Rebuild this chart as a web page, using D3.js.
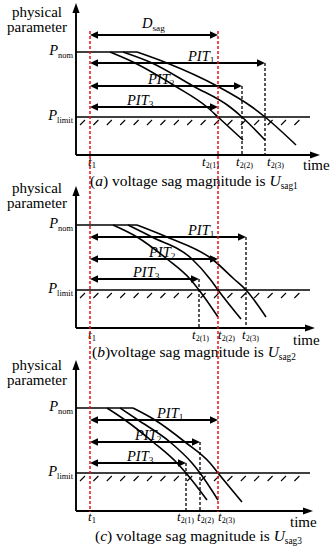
<!DOCTYPE html>
<html><head><meta charset="utf-8">
<script src="https://cdn.jsdelivr.net/npm/d3@7"></script>
<style>
html,body{margin:0;padding:0;background:#fff;}
svg{display:block;}
text{fill:#000;}
</style>
</head><body><svg id="chart" width="335" height="550" font-family="'Liberation Serif', 'Times New Roman', serif"></svg>
<script>
// ---------------- data ----------------
const panelLetters = ["a", "b", "c"];
const sagSubs = ["sag1", "sag2", "sag3"];
const pNom = 65, pLimit = 0, pMin = -38;          // physical parameter levels
const t1 = 14;                                      // sag start time
const t2Labels = ["2(1)", "2(2)", "2(3)"];
const t2A = [142, 166, 189];
const t2B = [123, 142, 170];
const t2C = [110, 124, 142];
const pitLevelsA = [54, 31, 10];                    // PIT1, PIT2, PIT3 arrow heights
const pitLevelsB = [53, 31, 11];
const pitLevelsC = [53, 31, 10];
const dsagLevel = 82;
const dsagEnd = 142;
const curvesA = [
  [[34,65],[57,55],[99,31],[131,10],[142,0],[167,-23]],
  [[47,65],[76,54],[117,31],[154,10],[166,0],[189,-23]],
  [[61,65],[91,54],[141,31],[176,10],[189,0],[220,-28]]
];
const curvesB = [
  [[37,65],[61,53],[91,31],[114,11],[123,0],[142,-27]],
  [[52,65],[76,53],[116,31],[134,11],[142,0],[165,-29]],
  [[61,65],[91,53],[136,31],[158,11],[170,0],[190,-27]]
];
const curvesC = [
  [[31,65],[49,53],[77,31],[101,10],[110,0],[131,-27]],
  [[44,65],[62,53],[94,31],[116,10],[124,0],[142,-27]],
  [[57,65],[79,53],[109,31],[134,10],[142,0],[166,-29]]
];

// ---------------- layout ----------------
const layout = [
  {plimitY:117, topP:114, axisEnd:244, limitEnd:234, physY:17, paramY:32, tickY:166, tickDx:[-16,-6,2],
   timeX:303, timeY:170, capX:90, capY:186, pitLabelT:[112,72,51], capSpace:true},
  {plimitY:290, topP:104, axisEnd:239, limitEnd:234, physY:193, paramY:208, tickY:339, tickDx:[-7,0,-4],
   timeX:293, timeY:345, capX:92, capY:357, pitLabelT:[112,73,57], capSpace:false},
  {plimitY:473, topP:113, axisEnd:237, limitEnd:234, physY:370, paramY:385, tickY:521, tickDx:[-9,-3,0],
   timeX:290, timeY:527, capX:95, capY:541, pitLabelT:[81,59,51], capSpace:true}
];
const t2s = [t2A, t2B, t2C];
const pits = [pitLevelsA, pitLevelsB, pitLevelsC];
const curves = [curvesA, curvesB, curvesC];

const svg = d3.select("#chart");
svg.append("rect").attr("width",335).attr("height",550).attr("fill","#fff");
const x = d3.scaleLinear().domain([0, 244]).range([76, 320]);

function rich(g, px, py, parts, size, anchor, subScale) {
  const sc = subScale || 0.64;
  const t = g.append("text").attr("x", px).attr("y", py).attr("font-size", size)
    .attr("text-anchor", anchor || "start");
  let shifted = false;
  const drop = Math.round(size * 0.18 * 10) / 10;
  parts.forEach(p => {
    const s = t.append("tspan").text(p.t);
    if (p.i) s.attr("font-style", "italic");
    if (p.sub) {
      s.attr("font-size", size * sc);
      if (!shifted) { s.attr("dy", drop); shifted = true; }
    } else if (shifted) { s.attr("dy", -drop); shifted = false; }
  });
  return t;
}

function arrowHead(g, tipX, tipY, dir, len, half) {
  let pts;
  if (dir === "l") pts = [[tipX, tipY], [tipX + len, tipY - half], [tipX + len, tipY + half]];
  else if (dir === "r") pts = [[tipX, tipY], [tipX - len, tipY - half], [tipX - len, tipY + half]];
  else pts = [[tipX, tipY], [tipX - half, tipY + len], [tipX + half, tipY + len]];
  g.append("path").attr("d", d3.line()(pts) + "Z").attr("fill", "#000");
}

function dblArrow(g, xa, xb, yy) {
  g.append("line").attr("x1", xa + 4).attr("x2", xb - 4).attr("y1", yy).attr("y2", yy)
    .attr("stroke", "#000").attr("stroke-width", 1.8);
  arrowHead(g, xa, yy, "l", 8, 3.8);
  arrowHead(g, xb, yy, "r", 8, 3.8);
}

layout.forEach((L, i) => {
  const g = svg.append("g");
  const y = d3.scaleLinear().domain([pMin, pNom]).range([L.plimitY + 38, L.plimitY - 65]);
  const axisY = y(pMin);

  // hatch below P_limit
  d3.range(x(4), x(230), 13.4).forEach(hx => {
    g.append("line").attr("x1", hx).attr("y1", y(pLimit) + 8).attr("x2", hx + 5).attr("y2", y(pLimit) + 3)
      .attr("stroke", "#000").attr("stroke-width", 1.1);
  });
  // P_limit line
  g.append("line").attr("x1", x(0)).attr("x2", x(L.limitEnd)).attr("y1", y(pLimit)).attr("y2", y(pLimit))
    .attr("stroke", "#000").attr("stroke-width", 1.6);
  // P_nom flat line
  const flatEnd = d3.max(curves[i], c => c[0][0]);
  g.append("line").attr("x1", x(0)).attr("x2", x(flatEnd)).attr("y1", y(pNom)).attr("y2", y(pNom))
    .attr("stroke", "#000").attr("stroke-width", 1.6);
  // curves
  const line = d3.line().x(d => x(d[0])).y(d => y(d[1])).curve(d3.curveMonotoneX);
  curves[i].forEach(c => {
    g.append("path").attr("d", line(c)).attr("fill", "none").attr("stroke", "#000").attr("stroke-width", 1.6);
  });

  // black dashed verticals (where not the red line)
  const t2 = t2s[i];
  const lv = pits[i]; // PIT1 ends at t2(3), PIT2 at t2(2), PIT3 at t2(1)
  [[t2[2], lv[0]], [t2[1], lv[1]], [t2[0], lv[2]]].forEach(([tt, pp]) => {
    if (tt === dsagEnd) return;
    g.append("line").attr("x1", x(tt)).attr("x2", x(tt)).attr("y1", y(pp)).attr("y2", axisY)
      .attr("stroke", "#000").attr("stroke-width", 1.3).attr("stroke-dasharray", "3,2");
  });

  // PIT arrows
  dblArrow(g, x(t1), x(t2[2]), y(lv[0]));
  dblArrow(g, x(t1), x(t2[1]), y(lv[1]));
  dblArrow(g, x(t1), x(t2[0]), y(lv[2]));
  [0,1,2].forEach(k => {
    rich(g, x(L.pitLabelT[k]), y(lv[k]) - 2.5, [{t:"PIT", i:true}, {t:String(k+1), sub:true}], 14.5);
  });

  if (i === 0) {
    dblArrow(g, x(t1), x(dsagEnd), y(dsagLevel));
    rich(g, 142, y(dsagLevel) - 7, [{t:"D", i:true}, {t:"sag", sub:true}], 14.5);
  }

  // axes
  g.append("line").attr("x1", x(0)).attr("x2", x(0)).attr("y1", axisY).attr("y2", y(L.topP) + 6)
    .attr("stroke", "#000").attr("stroke-width", 1.9);
  arrowHead(g, x(0), y(L.topP), "u", 10, 3.6);
  g.append("line").attr("x1", x(0)).attr("x2", x(L.axisEnd) - 6).attr("y1", axisY).attr("y2", axisY)
    .attr("stroke", "#000").attr("stroke-width", 1.9);
  arrowHead(g, x(L.axisEnd), axisY, "r", 10, 3.6);

  // y labels
  g.append("text").attr("x", 37).attr("y", L.physY).attr("text-anchor", "middle").attr("font-size", 15).text("physical");
  g.append("text").attr("x", 37).attr("y", L.paramY).attr("text-anchor", "middle").attr("font-size", 15).text("parameter");
  rich(g, 73, y(pNom) + 3, [{t:"P", i:true}, {t:"nom", sub:true}], 14.5, "end", 0.58);
  rich(g, 73, y(pLimit) + 3, [{t:"P", i:true}, {t:"limit", sub:true}], 14.5, "end", 0.58);

  // x tick labels
  rich(g, x(t1) - 2, L.tickY, [{t:"t", i:true}, {t:"1", sub:true}], 13, "start", 0.66);
  [0,1,2].forEach(k => {
    rich(g, x(t2[k]) + L.tickDx[k], L.tickY, [{t:"t", i:true}, {t:t2Labels[k], sub:true}], 13, "start", 0.62);
  });
  g.append("text").attr("x", L.timeX).attr("y", L.timeY).attr("font-size", 15).text("time");

  // caption
  rich(g, L.capX, L.capY, [
    {t:"("}, {t:panelLetters[i], i:true}, {t:")" + (L.capSpace ? " " : "") + "voltage sag magnitude is "},
    {t:"U", i:true}, {t:sagSubs[i], sub:true}
  ], 15.5, "start", 0.6);
});

// red dashed D_sag boundaries through all panels
const yTop = d3.scaleLinear().domain([pMin, pNom]).range([117 + 38, 117 - 65]);
const yBot = d3.scaleLinear().domain([pMin, pNom]).range([473 + 38, 473 - 65]);
[t1, dsagEnd].forEach(tt => {
  svg.append("line").attr("x1", x(tt)).attr("x2", x(tt)).attr("y1", yTop(86)).attr("y2", yBot(pMin) + 1)
    .attr("stroke", "#e3131b").attr("stroke-width", 1.5).attr("stroke-dasharray", "3,2");
});
</script>
</body></html>
